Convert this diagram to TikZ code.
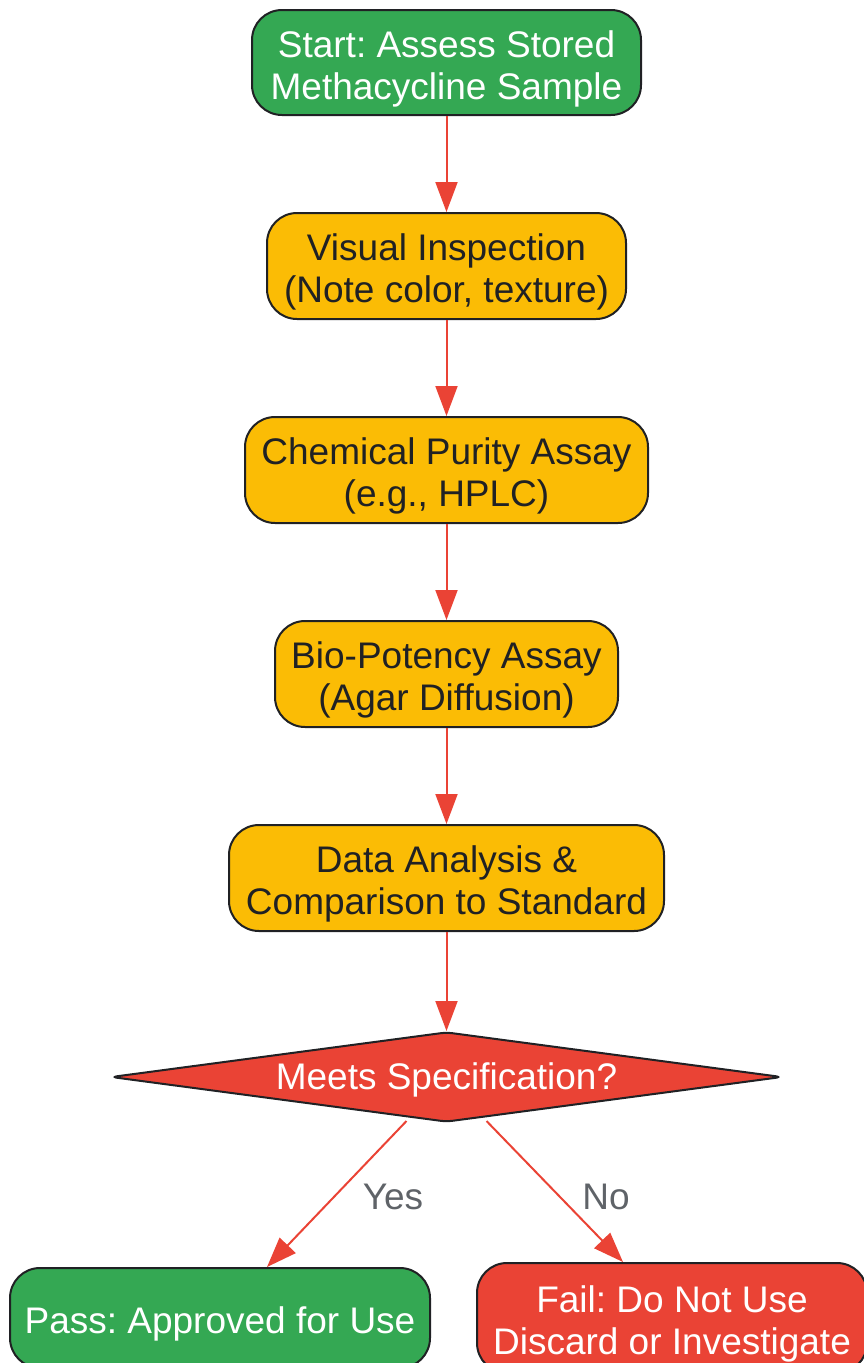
\documentclass[tikz,border=0pt]{standalone}
\usepackage{fontspec}
\setmainfont{Liberation Sans}
\usetikzlibrary{shapes.geometric,arrows.meta}
\definecolor{okgreen}{HTML}{34A853}
\definecolor{stepyellow}{HTML}{FBBC05}
\definecolor{alertred}{HTML}{EA4335}
\definecolor{inkdark}{HTML}{202124}
\definecolor{labelgrey}{HTML}{5F6368}
\newcommand{\capstrut}{\rule{0pt}{39pt}}
\frenchspacing

\begin{document}
\begin{tikzpicture}[x=1pt,y=-1pt,
  box/.style={draw=inkdark,line width=2pt,rounded corners=30pt,align=center,
    inner sep=0pt,font=\fontsize{37}{42}\selectfont},
  stepbox/.style={box,fill=stepyellow,text=inkdark,minimum height=106pt},
  flow/.style={draw=alertred,line width=2pt,-{Triangle[length=30pt,width=22pt]}},
  lbl/.style={text=labelgrey,font=\fontsize{37}{42}\selectfont}]
\useasboundingbox (0,0) rectangle (864,1363);
\node[box,fill=okgreen,text=white,minimum width=389pt,minimum height=105pt] (start) at (446.5,62.5) {\capstrut Start: Assess Stored\\Methacycline Sample};
\node[stepbox,minimum width=359pt] (visual) at (446.5,266) {\capstrut Visual Inspection\\(Note color, texture)};
\node[stepbox,minimum width=403pt] (purity) at (446.5,470) {\capstrut Chemical Purity Assay\\(e.g., HPLC)};
\node[stepbox,minimum width=343pt] (potency) at (446.5,674) {\capstrut Bio-Potency Assay\\(Agar Diffusion)};
\node[stepbox,minimum width=435pt] (analysis) at (446.5,878) {\capstrut Data Analysis \&\\Comparison to Standard};
\node[diamond,aspect=7.456,draw=inkdark,line width=2pt,rounded corners=6pt,fill=alertred,
      inner sep=0pt,minimum width=671pt,minimum height=90pt] (spec) at (446.5,1077) {};
\node[text=white,font=\fontsize{37}{42}\selectfont] (spectext) at (446.5,1080) {Meets Specification?};
\node[box,fill=okgreen,text=white,minimum width=420pt,minimum height=100pt] (pass) at (220,1318) {\capstrut Pass: Approved for Use};
\node[box,fill=alertred,text=white,minimum width=390pt,minimum height=110pt] (fail) at (672,1318) {\capstrut Fail: Do Not Use\\Discard or Investigate};

\draw[flow] (start.south) -- (visual.north);
\draw[flow] (visual.south) -- (purity.north);
\draw[flow] (purity.south) -- (potency.north);
\draw[flow] (potency.south) -- (analysis.north);
\draw[flow] (analysis.south) -- (spec.north);
\draw[flow] ([xshift=-40pt,yshift=2pt]spec.south) -- ([xshift=47pt]pass.north);
\draw[flow] ([xshift=40pt,yshift=2pt]spec.south) -- ([xshift=-49pt]fail.north);
\node[lbl] (yes) at (393,1197) {Yes};
\node[lbl] (no) at (606,1197) {No};
\end{tikzpicture}
\end{document}
